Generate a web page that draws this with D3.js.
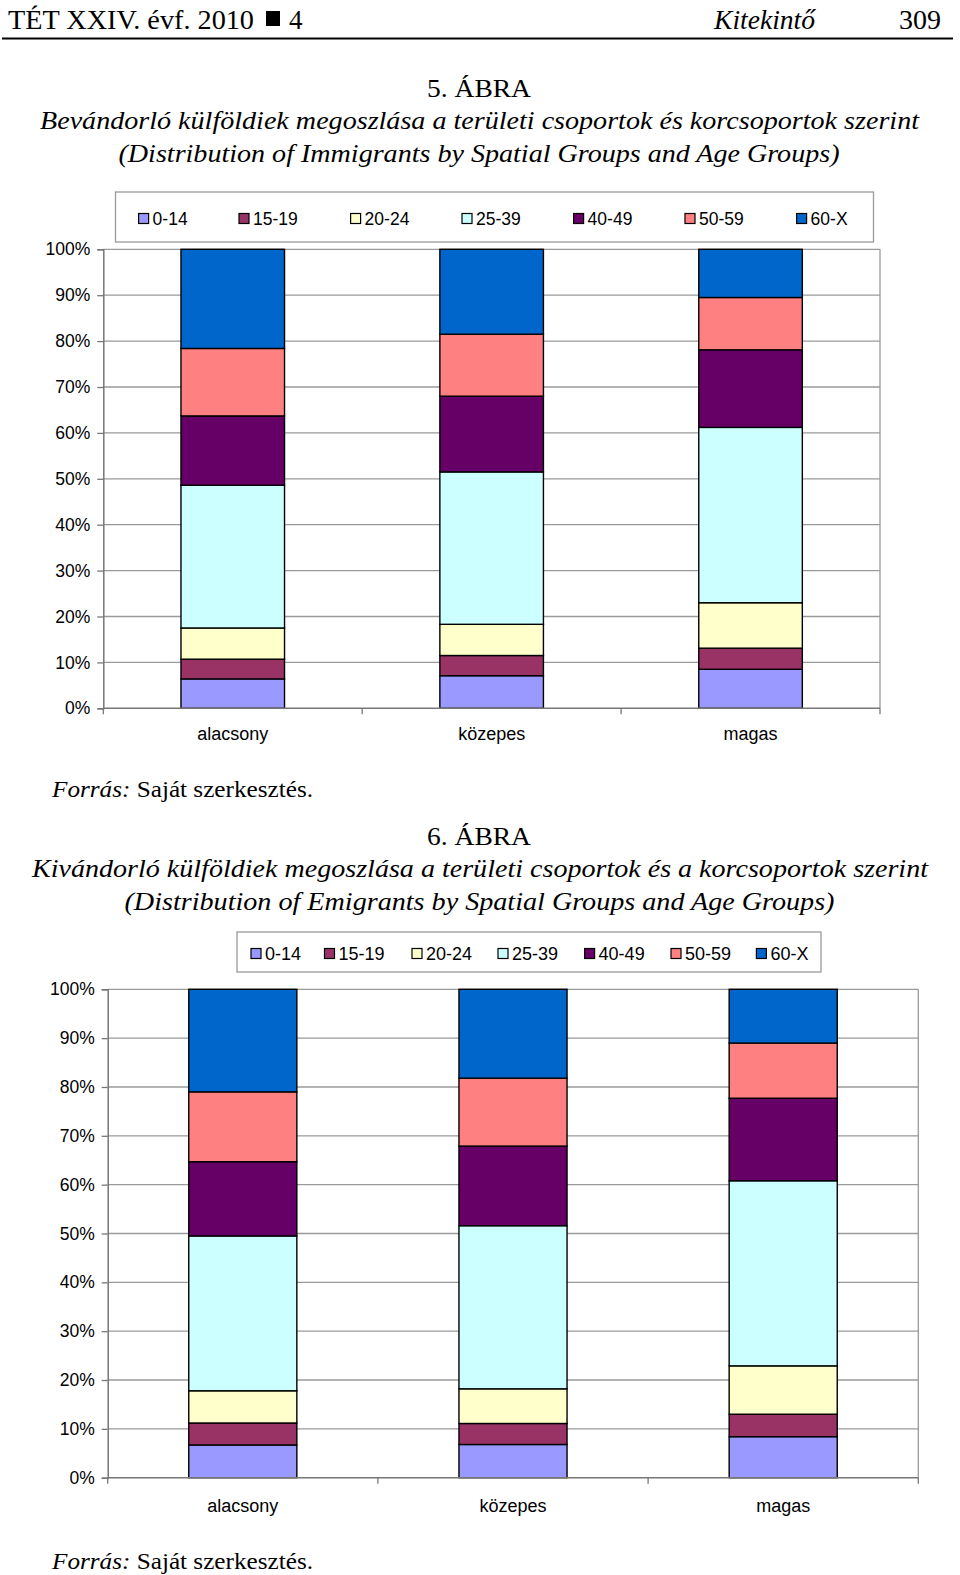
<!DOCTYPE html>
<html><head><meta charset="utf-8">
<script src="https://cdn.jsdelivr.net/npm/d3@7"></script>
<style>body{margin:0;background:#fff}</style>
</head><body><svg id="c" width="960" height="1575"></svg>
<script>
// ---------- DATA ----------
const categories = ["alacsony", "közepes", "magas"];
const ageGroups = ["0-14", "15-19", "20-24", "25-39", "40-49", "50-59", "60-X"];
const ageColors = ["#9999FF", "#993366", "#FFFFCC", "#CCFFFF", "#660066", "#FF8080", "#0066CC"];
const yTickValues = [0, 10, 20, 30, 40, 50, 60, 70, 80, 90, 100];
const yTickLabels = ["0%", "10%", "20%", "30%", "40%", "50%", "60%", "70%", "80%", "90%", "100%"];

// 5. ábra – immigrants (shares by age group, %)
const immAlacsony = [6.4, 4.3, 6.8, 31.1, 15.1, 14.7, 21.6];
const immKozepes  = [7.1, 4.4, 6.8, 33.2, 16.5, 13.5, 18.5];
const immMagas    = [8.5, 4.6, 9.9, 38.2, 16.9, 11.4, 10.5];
// 6. ábra – emigrants
const emiAlacsony = [6.7, 4.5, 6.6, 31.7, 15.2, 14.3, 21.0];
const emiKozepes  = [6.8, 4.3, 7.1, 33.4, 16.3, 13.9, 18.2];
const emiMagas    = [8.4, 4.6, 9.9, 37.9, 16.9, 11.3, 11.0];

// ---------- DRAW ----------
const svg = d3.select("#c");
const SERIF = "'Liberation Serif','Times New Roman',serif";
const SANS = "'Liberation Sans',Arial,sans-serif";

function txt(x, y, s, o = {}) {
  const t = svg.append("text").attr("x", x).attr("y", y).text(s)
    .attr("font-family", o.family || SERIF).attr("font-size", o.size || 26)
    .attr("fill", "#000");
  if (o.italic) t.attr("font-style", "italic");
  if (o.anchor) t.attr("text-anchor", o.anchor);
  if (o.len) t.attr("textLength", o.len).attr("lengthAdjust", "spacingAndGlyphs");
  return t;
}
// page header
txt(8, 29, "TÉT XXIV. évf. 2010", {size: 27, len: 246});
svg.append("rect").attr("x", 266).attr("y", 11).attr("width", 14).attr("height", 15).attr("fill", "#000");
txt(289, 29, "4", {size: 27});
txt(714, 29, "Kitekintő", {size: 27, italic: true, len: 101});
txt(899, 29, "309", {size: 27, len: 42});
svg.append("line").attr("x1", 2).attr("x2", 953).attr("y1", 38.5).attr("y2", 38.5)
  .attr("stroke", "#000").attr("stroke-width", 2);

function drawChart(cfg, rowsIn) {
  // titles
  txt(479, cfg.titleY[0], cfg.title[0], {anchor: "middle", size: 26, len: cfg.titleLen[0]});
  txt(cfg.titleX[1], cfg.titleY[1], cfg.title[1], {italic: true, size: 26, len: cfg.titleLen[1]});
  txt(cfg.titleX[2], cfg.titleY[2], cfg.title[2], {italic: true, size: 26, len: cfg.titleLen[2]});
  // source
  const src = svg.append("text").attr("x", 52).attr("y", cfg.srcY)
    .attr("font-family", SERIF).attr("font-size", 24)
    .attr("textLength", 261).attr("lengthAdjust", "spacingAndGlyphs");
  src.append("tspan").attr("font-style", "italic").text("Forrás:");
  src.append("tspan").text(" Saját szerkesztés.");

  const rows = categories.map((c, i) => {
    const r = {cat: c};
    ageGroups.forEach((a, j) => r[a] = rowsIn[i][j]);
    return r;
  });
  const stack = d3.stack().keys(ageGroups)(rows);

  const x = d3.scaleBand().domain(categories).range([cfg.x0, cfg.x1])
    .paddingInner(0.6).paddingOuter(0.3);
  const y = d3.scaleLinear().domain([0, 100]).range([cfg.yB, cfg.yT]);
  const g = svg.append("g");

  // gridlines
  g.selectAll("line.grid").data(yTickValues.filter(v => v > 0)).join("line")
    .attr("x1", cfg.x0).attr("x2", cfg.x1)
    .attr("y1", d => y(d)).attr("y2", d => y(d))
    .attr("stroke", "#9a9a9a").attr("stroke-width", 1.3);
  // right border
  g.append("line").attr("x1", cfg.x1).attr("x2", cfg.x1).attr("y1", cfg.yT).attr("y2", cfg.yB)
    .attr("stroke", "#9a9a9a").attr("stroke-width", 1.3);

  // bars
  g.selectAll("g.ser").data(stack).join("g")
    .attr("fill", (d, i) => ageColors[i])
    .selectAll("rect").data(d => d).join("rect")
    .attr("x", d => x(d.data.cat)).attr("width", x.bandwidth())
    .attr("y", d => y(d[1])).attr("height", d => y(d[0]) - y(d[1]))
    .attr("stroke", "#000").attr("stroke-width", 1.4);

  // y axis
  const yAxis = d3.axisLeft(y).tickValues(yTickValues)
    .tickFormat((d, i) => yTickLabels[i]).tickSize(6).tickPadding(7);
  const ya = g.append("g").attr("transform", `translate(${cfg.x0},0)`).call(yAxis);
  ya.select(".domain").attr("stroke", "#777").attr("stroke-width", 1.5);
  ya.selectAll(".tick line").attr("stroke", "#777").attr("stroke-width", 1.3);
  ya.selectAll(".tick text").attr("font-family", SANS).attr("font-size", 17.5).attr("fill", "#000");

  // x axis
  const bounds = d3.range(categories.length + 1).map(i => cfg.x0 + i * (cfg.x1 - cfg.x0) / categories.length);
  g.append("line").attr("x1", cfg.x0).attr("x2", cfg.x1).attr("y1", cfg.yB).attr("y2", cfg.yB)
    .attr("stroke", "#777").attr("stroke-width", 1.5);
  g.selectAll("line.xt").data(bounds).join("line")
    .attr("x1", d => d).attr("x2", d => d).attr("y1", cfg.yB).attr("y2", cfg.yB + 6)
    .attr("stroke", "#777").attr("stroke-width", 1.3);
  g.selectAll("text.cat").data(categories).join("text")
    .attr("x", d => x(d) + x.bandwidth() / 2).attr("y", cfg.catY)
    .attr("text-anchor", "middle").attr("font-family", SANS).attr("font-size", 18)
    .text(d => d);

  // legend
  const L = cfg.legend;
  g.append("rect").attr("x", L.x).attr("y", L.y).attr("width", L.w).attr("height", L.h)
    .attr("fill", "#fff").attr("stroke", "#9a9a9a").attr("stroke-width", 1.3);
  const items = g.selectAll("g.li").data(ageGroups).join("g")
    .attr("transform", (d, i) => `translate(${L.itemX[i]},${L.cy})`);
  items.append("rect").attr("x", 0).attr("y", -5).attr("width", 10).attr("height", 10)
    .attr("fill", (d, i) => ageColors[i]).attr("stroke", "#000").attr("stroke-width", 1.2);
  items.append("text").attr("x", 14).attr("y", 6.5).attr("font-family", SANS)
    .attr("font-size", L.size).text(d => d);
}

drawChart({
  title: ["5. ÁBRA",
    "Bevándorló külföldiek megoszlása a területi csoportok és korcsoportok szerint",
    "(Distribution of Immigrants by Spatial Groups and Age Groups)"],
  titleY: [96.5, 128.5, 161.5], titleX: [0, 40, 118.5], titleLen: [104, 879, 721],
  srcY: 797,
  x0: 103.3, x1: 880, yT: 249.3, yB: 708.3, catY: 740,
  legend: {x: 115.5, y: 192, w: 758, h: 50, cy: 218.5, size: 17.5,
    itemX: [138.6, 239, 350.6, 462, 573.6, 685, 796.6]}
}, [immAlacsony, immKozepes, immMagas]);

drawChart({
  title: ["6. ÁBRA",
    "Kivándorló külföldiek megoszlása a területi csoportok és a korcsoportok szerint",
    "(Distribution of Emigrants by Spatial Groups and Age Groups)"],
  titleY: [844.5, 876.5, 909.5], titleX: [0, 32, 124.5], titleLen: [104, 896, 710],
  srcY: 1569,
  x0: 107.7, x1: 918.3, yT: 989.3, yB: 1477.7, catY: 1512,
  legend: {x: 237, y: 932, w: 584, h: 40, cy: 953.5, size: 18,
    itemX: [251, 324.5, 412, 498, 584.6, 671, 756.4]}
}, [emiAlacsony, emiKozepes, emiMagas]);
</script></body></html>
